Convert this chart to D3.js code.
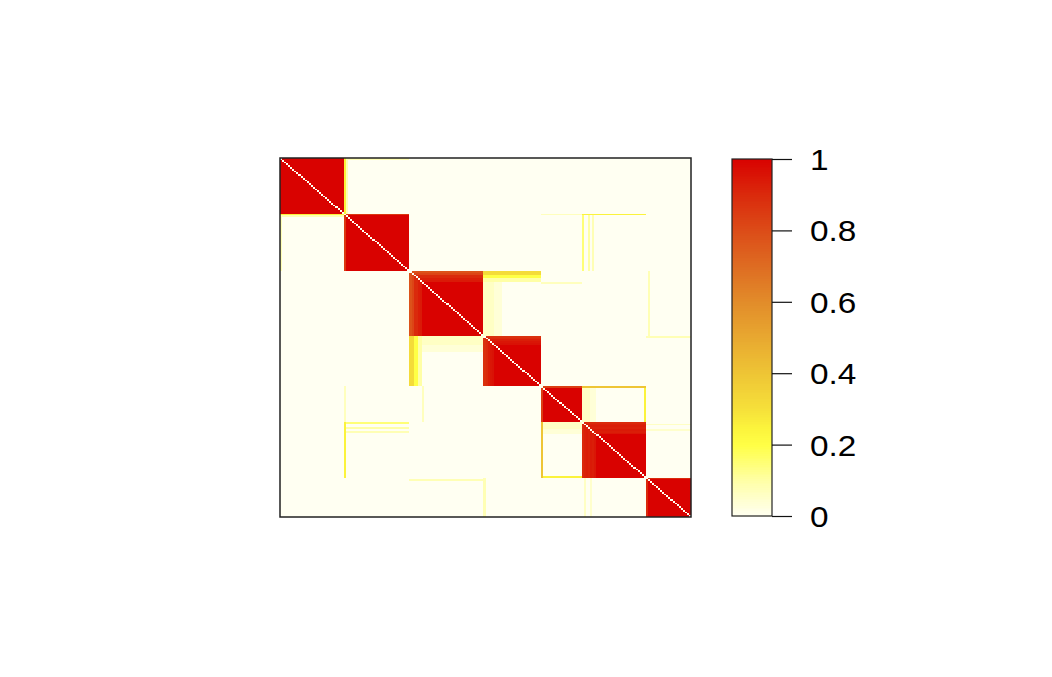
<!DOCTYPE html>
<html><head><meta charset="utf-8">
<script src="https://cdn.jsdelivr.net/npm/d3@7"></script>
<style>body{margin:0;background:#fff}</style>
</head><body><svg id="c" width="1052" height="677"></svg>
<script>
// ---- data ----
const clusterSizes = [31, 32, 36, 28, 20, 31, 22];
// samples whose within-cluster consensus is below 1: [sample index, consensus]
const weakSamples = [[31,0.86],[63,0.78],[64,0.82],[65,0.9],[66,0.9],[67,0.93],[68,0.94],
  [99,0.88],[100,0.9],[101,0.93],[102,0.95],[103,0.96],[127,0.84],
  [147,0.9],[148,0.92],[149,0.93],[150,0.92],[151,0.94],[152,0.93],[153,0.95],[178,0.9]];
// off-cluster consensus bands: [rowFrom,rowTo,colFrom,colTo,value] (mirrored)
const offBands = [
  [0,30,31,31,0.25],[0,30,32,32,0.08],[0,0,32,62,0.08],
  [31,31,127,146,0.07],[31,31,147,177,0.25],
  [32,62,147,147,0.15],[32,62,150,150,0.1],[32,62,152,152,0.08],
  [63,64,99,126,0.32],[65,66,99,126,0.2],[67,68,99,126,0.1],[69,98,99,103,0.06],[69,98,104,107,0.035],
  [69,69,127,146,0.07],[63,98,179,179,0.08],[99,99,178,199,0.08],
  [127,127,147,177,0.4],[128,146,177,177,0.25],[128,146,147,150,0.06],[128,146,151,153,0.035],
  [148,148,178,199,0.06],[151,151,178,199,0.05]
];
const legendTicks = [0, 0.2, 0.4, 0.6, 0.8, 1];
const colorStops  = [0, 0.1, 0.2, 0.25, 0.3, 0.4, 0.5, 0.6, 0.7, 0.8, 0.9, 1];
const colorValues = ["#fffff2","#ffffa6","#ffff45","#fbf33c","#f6e03a","#eec535","#e8a830",
                     "#e28c2a","#de6c22","#dc4c18","#da2a0c","#d90200"];

// ---- build consensus matrix ----
const N = d3.sum(clusterSizes);
const cluster = [];
clusterSizes.forEach((s, k) => { for (let i = 0; i < s; i++) cluster.push(k); });
const strength = new Array(N).fill(1);
weakSamples.forEach(([i, v]) => strength[i] = v);
const M = d3.range(N).map(i => d3.range(N).map(j =>
  cluster[i] === cluster[j] ? Math.min(strength[i], strength[j]) : 0));
offBands.forEach(([r0, r1, c0, c1, v]) => {
  for (let r = r0; r <= r1; r++) for (let c = c0; c <= c1; c++) {
    M[r][c] = Math.max(M[r][c], v); M[c][r] = Math.max(M[c][r], v);
  }
});
for (let i = 0; i < N; i++) M[i][i] = 0;

// ---- scales ----
const svg = d3.select("#c");
const x = d3.scaleBand().domain(d3.range(N)).range([280, 691]);
const y = d3.scaleBand().domain(d3.range(N)).range([158, 517]);
const color = d3.scaleLinear().domain(colorStops).range(colorValues).clamp(true);

// run-length cells per row
const runs = [];
for (let r = 0; r < N; r++) {
  let start = 0;
  for (let c = 1; c <= N; c++) {
    if (c === N || M[r][c] !== M[r][start]) { runs.push({r, c0: start, c1: c - 1, v: M[r][start]}); start = c; }
  }
}
svg.append("g").attr("shape-rendering", "crispEdges")
  .selectAll("rect").data(runs).join("rect")
  .attr("x", d => x(d.c0))
  .attr("width", d => x(d.c1) + x.bandwidth() - x(d.c0))
  .attr("y", d => y(d.r))
  .attr("height", y.bandwidth())
  .attr("fill", d => color(d.v));

svg.append("rect").attr("x", 280).attr("y", 158).attr("width", 411).attr("height", 359)
  .attr("fill", "none").attr("stroke", "#222").attr("stroke-width", 1.5);

// ---- colour bar ----
const yC = d3.scaleLinear().domain([0, 1]).range([516, 159]);
const step = 0.005;
svg.append("g").attr("shape-rendering", "crispEdges")
  .selectAll("rect").data(d3.range(0, 1, step)).join("rect")
  .attr("x", 732).attr("width", 40)
  .attr("y", d => yC(d + step)).attr("height", d => yC(d) - yC(d + step) + 0.5)
  .attr("fill", d => color(d + step / 2));
svg.append("rect").attr("x", 732).attr("y", 159).attr("width", 40).attr("height", 357)
  .attr("fill", "none").attr("stroke", "#222").attr("stroke-width", 1.2);

const ax = svg.append("g").attr("transform", "translate(772,0)")
  .call(d3.axisRight(yC).tickValues(legendTicks).tickSize(20).tickPadding(18).tickFormat(d3.format("")));
ax.select(".domain").remove();
ax.selectAll(".tick line").attr("stroke", "#111").attr("stroke-width", 1.2);
ax.selectAll(".tick text")
  .attr("font-family", "Liberation Sans, Arial, Helvetica, sans-serif")
  .attr("font-size", 29).attr("fill", "#000")
  .attr("x", 38 / 1.15).attr("dy", "0.36em")
  .attr("transform", "scale(1.15,1)");
</script>
</body></html>
